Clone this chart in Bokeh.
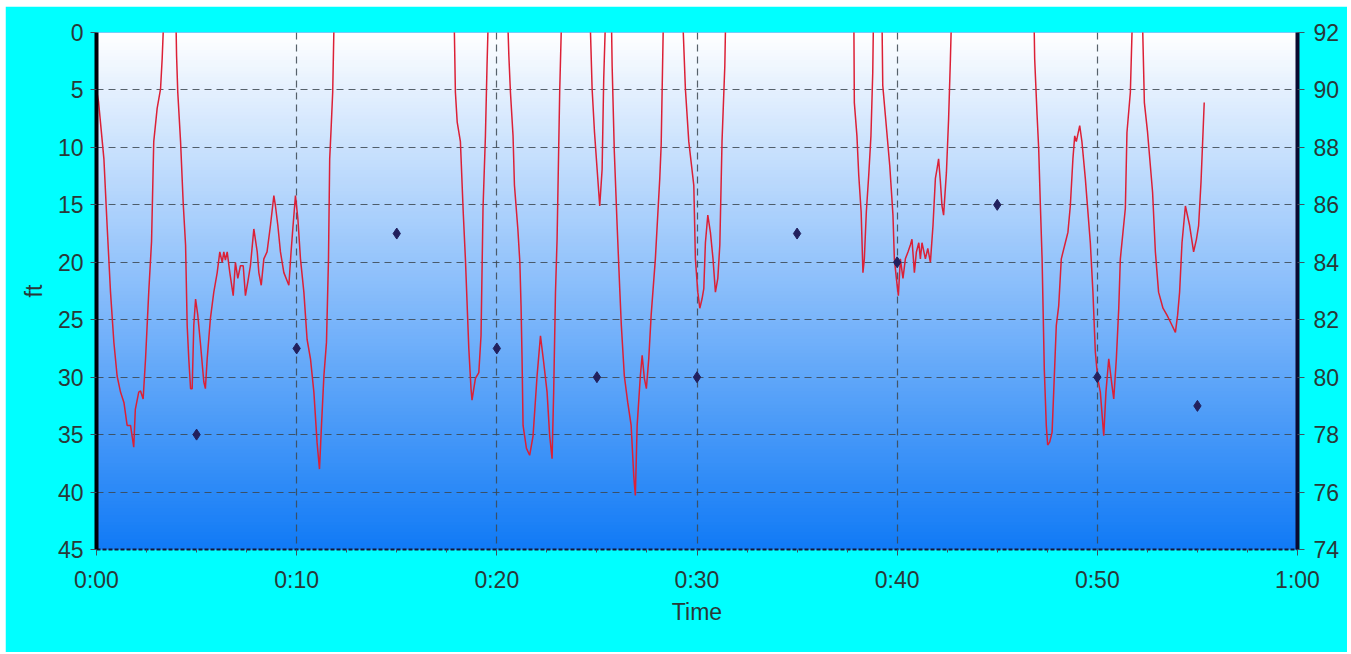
import numpy as np
from bokeh.plotting import figure
from bokeh.models import Range1d, LinearAxis, FixedTicker, Spacer
from bokeh.layouts import column, row
from bokeh.embed import file_html
from bokeh.resources import INLINE

# ---- data (time in minutes, depth in ft; -3 = at surface, above the chart) ----
depth_time = [
    0, 0.1, 0.37, 0.53, 0.70, 0.87, 1.03, 1.2, 1.37, 1.53, 1.7, 1.86, 1.94, 2.11, 2.2, 2.33, 2.45, 2.61, 2.75, 2.86, 3.03, 3.2, 3.28, 3.4,
    3.95, 4.00, 4.06, 4.20, 4.33, 4.45, 4.53, 4.61, 4.70, 4.78, 4.86, 4.95, 5.06, 5.19, 5.36, 5.44, 5.53, 5.69, 5.86, 6.03, 6.16, 6.28,
    6.36, 6.44, 6.53, 6.66, 6.83, 6.94, 7.06, 7.19, 7.33, 7.44, 7.56, 7.69, 7.86, 8.03, 8.11, 8.23, 8.36, 8.52, 8.69, 8.86, 8.94, 9.06,
    9.19, 9.36, 9.61, 9.72, 9.82, 9.94, 10.06, 10.19, 10.36, 10.52, 10.69, 10.86, 11.02, 11.14, 11.24, 11.36, 11.49, 11.59, 11.65, 11.72,
    11.80, 11.89,
    17.85, 17.93, 18.02, 18.18, 18.32, 18.43, 18.60, 18.71, 18.76, 18.93, 19.10, 19.21, 19.31, 19.43, 19.51, 19.60,
    20.51, 20.60, 20.68, 20.81, 20.88, 21.05, 21.15, 21.21, 21.26, 21.31, 21.48, 21.64, 21.81, 22.01, 22.18, 22.34, 22.51, 22.64, 22.76,
    22.84, 22.93, 23.01, 23.09, 23.14, 23.26,
    24.63, 24.76, 24.88, 25.01, 25.14, 25.26, 25.34, 25.46,
    25.71, 25.76, 25.87, 26.01, 26.14, 26.22, 26.37, 26.54, 26.71, 26.84, 26.92, 27.01, 27.17, 27.26, 27.37, 27.47, 27.59, 27.71, 27.92,
    28.14, 28.21, 28.34,
    29.25, 29.42, 29.59, 29.84, 29.92, 30.04, 30.14, 30.25, 30.34, 30.42, 30.54, 30.67, 30.80, 30.92, 31.04, 31.14, 31.25, 31.39, 31.45,
    37.83, 37.86, 37.99, 38.08, 38.20, 38.29, 38.36, 38.46, 38.58, 38.69, 38.78, 38.83,
    39.23, 39.28, 39.41, 39.63, 39.79, 39.86, 39.96, 40.06, 40.16, 40.29, 40.41, 40.54, 40.66, 40.74, 40.86, 40.96, 41.08, 41.16, 41.24,
    41.41, 41.53, 41.66, 41.79, 41.91, 41.99, 42.07, 42.16, 42.24, 42.32, 42.46, 42.57, 42.66, 42.74,
    46.82, 46.87, 46.99, 47.07, 47.15, 47.24, 47.35, 47.45, 47.52, 47.62, 47.74, 47.82, 47.95, 48.07, 48.20, 48.40, 48.53, 48.65, 48.78,
    48.87, 48.95, 49.12, 49.23, 49.40, 49.48, 49.65, 49.78, 49.90, 50.02, 50.15, 50.32, 50.43, 50.57, 50.73, 50.82, 50.95, 51.07, 51.15,
    51.28, 51.40, 51.48, 51.65, 51.78,
    52.23, 52.35, 52.51, 52.76, 52.90, 53.06, 53.28, 53.48, 53.65, 53.90, 54.01, 54.11, 54.23, 54.40, 54.61, 54.81, 54.95, 55.06, 55.18,
    55.28, 55.34,
]
depth_ft = [
    5, 6, 11, 16.8, 22.6, 27, 29.9, 31.3, 32.2, 34.2, 34.2, 36.1, 32.8, 31.3, 31.2, 31.9, 28.4, 22.6, 18.2, 9.5, 6.6, 4.9, 2.3, -3,
    -3, 2.0, 5.2, 9.5, 14.8, 18.5, 25.5, 28.4, 31.0, 31.0, 25.5, 23.2, 24.6, 27.0, 30.4, 31.0, 28.4, 24.9, 22.6, 20.9, 19.1, 20.0,
    19.1, 19.8, 19.1, 20.9, 22.9, 20.0, 21.4, 20.3, 20.3, 22.9, 21.7, 20.3, 17.1, 19.1, 20.9, 22.0, 19.7, 19.1, 16.8, 14.2, 15.1, 16.8,
    19.1, 20.9, 22.0, 19.1, 16.8, 14.2, 16.2, 19.7, 22.6, 26.7, 28.4, 31.3, 35.7, 38.0, 34.2, 29.9, 26.95, 19.7, 11.0, 8.4,
    5.2, -3,
    -3, 5.2, 7.8, 9.5, 15.6, 19.7, 27.5, 31.0, 32.0, 30.1, 29.6, 26.4, 15.3, 9.0, 2.9, -3,
    -3, 2.0, 5.2, 9.0, 13.3, 17.1, 20.0, 23.8, 28.4, 34.2, 36.2, 36.8, 35.1, 29.9, 26.4, 28.7, 31.3, 35.1, 37.1,
    31.3, 22.6, 18.0, 10.1, 5.2, -3,
    -3, 4.9, 8.7, 11.9, 15.1, 11.9, 4.0, -3,
    -3, 2.9, 10.4, 16.8, 22.3, 25.5, 29.9, 32.2, 34.2, 38.6, 40.3, 34.2, 29.9, 28.1, 30.1, 31.0, 28.4, 24.6, 19.7,
    12.7, 9.8, -3,
    -3, 4.9, 9.5, 13.3, 19.7, 22.6, 24.0, 23.2, 22.3, 18.3, 15.9, 17.4, 19.7, 22.6, 21.4, 18.5, 9.5, 2.9, -3,
    -3, 6.1, 9.0, 12.4, 15.6, 20.9, 19.7, 15.6, 12.4, 9.0, 3.5, -3,
    -3, 4.6, 7.2, 11.6, 15.9, 19.7, 21.4, 22.9, 19.7, 21.4, 19.7, 19.1, 18.5, 18.0, 20.9, 19.1, 18.3, 19.7, 18.3,
    19.7, 18.8, 20.0, 16.8, 12.7, 11.9, 11.0, 13.0, 15.1, 15.9, 12.2, 7.5, 2.3, -3,
    -3, 2.3, 7.2, 10.1, 14.8, 19.7, 29.3, 34.2, 35.9, 35.65, 34.8, 31.3, 25.5, 23.8, 19.7, 18.3, 17.4, 15.1, 11.0,
    9.0, 9.5, 8.1, 9.5, 12.7, 14.5, 18.3, 22.6, 27.8, 30.1, 31.3, 35.1, 31.3, 28.4, 30.7, 31.9, 28.4, 24.0, 19.7,
    17.4, 15.3, 8.7, 5.2, -3,
    -3, 6.1, 8.7, 13.9, 19.1, 22.6, 24.0, 24.6, 25.2, 26.1, 24.6, 22.6, 18.3, 15.1, 16.8, 19.1, 18.0, 16.8, 13.0,
    8.7, 6.1,
]

temp_time = [5, 10, 15, 20, 25, 30, 35, 40, 45, 50, 55]
temp_f = [78, 81, 85, 81, 80, 80, 85, 84, 86, 80, 79]

x_ticks = [0, 10, 20, 30, 40, 50, 60]
x_labels = ["0:00", "0:10", "0:20", "0:30", "0:40", "0:50", "1:00"]
x_minor = [2.5, 5, 7.5, 12.5, 15, 17.5, 22.5, 25, 27.5, 32.5, 35, 37.5, 42.5, 45, 47.5, 52.5, 55, 57.5]
depth_ticks = [0, 5, 10, 15, 20, 25, 30, 35, 40, 45]
temp_ticks = [74, 76, 78, 80, 82, 84, 86, 88, 90, 92]

X0, X1 = 0, 60
D_MAX, D_MIN = 45, 0
T_MIN, T_MAX = 74, 92

FONT = "Liberation Sans"
TXT = "#2a3838"

p = figure(width=1342, height=646, output_backend="svg", toolbar_location=None,
           x_range=Range1d(X0, X1), y_range=Range1d(D_MAX, D_MIN),
           min_border_left=91, min_border_right=50, min_border_top=26, min_border_bottom=103,
           background_fill_color="#1478F0", border_fill_color="#00FFFF",
           x_axis_label="Time", y_axis_label="ft")
p.outline_line_color = None
p.extra_y_ranges = {"temp": Range1d(T_MIN, T_MAX)}

# vertical gradient background (white -> blue)
n = 150
edges = np.linspace(D_MIN, D_MAX, n + 1)
frac = (np.arange(n) + 0.5) / n
top_rgb = np.array([255, 255, 255])
bot_rgb = np.array([16, 122, 246])
cols = ["#%02x%02x%02x" % tuple(int(round(c)) for c in (top_rgb + (bot_rgb - top_rgb) * f)) for f in frac]
step = (D_MAX - D_MIN) / n
p.quad(left=X0, right=X1, top=edges[:-1], bottom=edges[1:] + step * 0.4,
       fill_color=cols, line_color=None, level="image")

# grids
p.xgrid.ticker = FixedTicker(ticks=x_ticks)
p.ygrid.ticker = FixedTicker(ticks=depth_ticks)
for g in (p.xgrid, p.ygrid):
    g.grid_line_color = "#3c4650"
    g.grid_line_dash = "7 5"
    g.grid_line_width = 1.2
    g.grid_line_alpha = 0.85

# data
p.line(depth_time, depth_ft, line_color="#DC2036", line_width=1.5)
p.scatter(temp_time, temp_f, y_range_name="temp", marker="diamond", size=11,
          fill_color="#22205e", line_color="#22205e")

# axes
xa = p.xaxis[0]
xa.ticker = FixedTicker(ticks=x_ticks, minor_ticks=x_minor)
xa.major_label_overrides = {t: l for t, l in zip(x_ticks, x_labels)}
xa.axis_line_color = "#101838"
xa.axis_line_width = 2
xa.axis_line_dash = "4 2"
xa.major_tick_out = 6
xa.major_tick_in = 0
xa.minor_tick_out = 3
xa.minor_tick_in = 0
xa.major_tick_line_color = "#405060"
xa.minor_tick_line_color = "#405060"
xa.major_label_standoff = 11

ya = p.yaxis[0]
ya.ticker = FixedTicker(ticks=depth_ticks)
ya.axis_line_color = "#000008"
ya.axis_line_width = 4
ya.major_tick_out = 6
ya.major_tick_in = 0
ya.minor_tick_out = 0
ya.minor_tick_in = 0
ya.major_tick_line_color = "#405060"
ya.major_label_standoff = 7

ra = LinearAxis(y_range_name="temp", ticker=FixedTicker(ticks=temp_ticks))
ra.axis_line_color = "#0a0a30"
ra.axis_line_width = 4
ra.major_tick_out = 7
ra.major_tick_in = 0
ra.minor_tick_out = 0
ra.minor_tick_in = 0
ra.major_tick_line_color = "#405060"
ra.major_label_standoff = 9
p.add_layout(ra, "right")

for ax in (xa, ya, ra):
    ax.major_label_text_font = FONT
    ax.major_label_text_font_size = "23px"
    ax.major_label_text_color = TXT
    ax.axis_label_text_font = FONT
    ax.axis_label_text_font_size = "23px"
    ax.axis_label_text_font_style = "normal"
    ax.axis_label_text_color = TXT
xa.axis_label_standoff = 3
ya.axis_label_standoff = 8

layout = column(Spacer(height=6), row(Spacer(width=5), p))
open("out.html", "w").write(file_html(layout, INLINE))
